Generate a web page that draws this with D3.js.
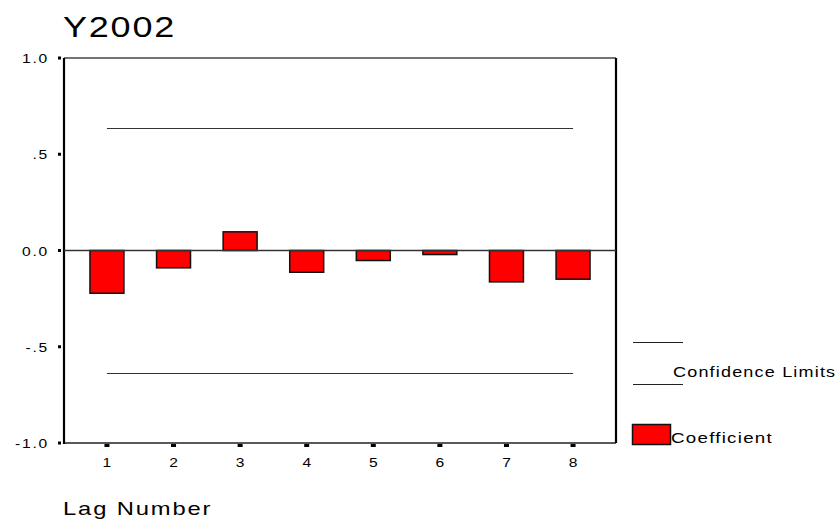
<!DOCTYPE html>
<html><head><meta charset="utf-8">
<script src="https://cdn.jsdelivr.net/npm/d3@7"></script>
<style>body{margin:0;background:#fff}svg{display:block}text{font-family:"Liberation Sans",Arial,sans-serif}</style>
</head><body><svg id="c" width="839" height="520"></svg>
<script>
const lags = [1,2,3,4,5,6,7,8];
const coefficients = [-0.222,-0.090,0.097,-0.113,-0.052,-0.021,-0.163,-0.149];
const upperLimit = 0.634;
const lowerLimit = -0.634;
const yTickValues = [1.0,0.5,0.0,-0.5,-1.0];
const yTickLabels = ["1.0",".5","0.0","-.5","-1.0"];
const title = "Y2002";
const xTitle = "Lag Number";
const legendLabels = ["Confidence Limits","Coefficient"];

const svg = d3.select("#c");
const L=64, R=616, T=58, B=443;
const x = d3.scalePoint().domain(lags).range([L,R]).padding(0.645);
const y = d3.scaleLinear().domain([-1,1]).range([B,T]);
const bw = x.step()*0.51;

function stxt(px,py,size,sx,ls,anchor,str){
  return svg.append("text").attr("transform",`translate(${px},${py}) scale(${sx},1)`)
    .attr("font-size",size).attr("letter-spacing",ls).attr("text-anchor",anchor||"start")
    .attr("fill","#000").text(str);
}

// frame
svg.append("line").attr("x1",L).attr("x2",R).attr("y1",T).attr("y2",T).attr("stroke","#444").attr("stroke-width",1.4);
svg.append("line").attr("x1",L).attr("x2",R).attr("y1",B).attr("y2",B).attr("stroke","#222").attr("stroke-width",1.4);
svg.append("line").attr("x1",L).attr("x2",L).attr("y1",T).attr("y2",B+1).attr("stroke","#000").attr("stroke-width",2.2);
svg.append("line").attr("x1",R).attr("x2",R).attr("y1",T).attr("y2",B).attr("stroke","#000").attr("stroke-width",2.2);

// confidence limits
[upperLimit,lowerLimit].forEach(v=>{
  svg.append("line").attr("x1",x(lags[0])).attr("x2",x(lags[lags.length-1]))
    .attr("y1",Math.round(y(v))+0.5).attr("y2",Math.round(y(v))+0.5).attr("stroke","#333").attr("stroke-width",1.2);
});

// bars
svg.selectAll("rect.bar").data(lags).enter().append("rect").attr("class","bar")
  .attr("x",d=>x(d)-bw/2).attr("width",bw)
  .attr("y",(d,i)=>y(Math.max(0,coefficients[i])))
  .attr("height",(d,i)=>Math.abs(y(coefficients[i])-y(0)))
  .attr("fill","#ff0000").attr("stroke","#111").attr("stroke-width",1.5);

// zero line
svg.append("line").attr("x1",L).attr("x2",R).attr("y1",y(0)).attr("y2",y(0)).attr("stroke","#333").attr("stroke-width",1.3);

// y axis ticks
yTickValues.forEach((v,i)=>{
  svg.append("rect").attr("x",L-6).attr("y",y(v)-1.5).attr("width",3).attr("height",3).attr("fill","#000");
  stxt(L-15,y(v)+5,13,1.2,1.5,"end",yTickLabels[i]);
});
// x axis ticks
lags.forEach(d=>{
  svg.append("rect").attr("x",x(d)-2.5).attr("y",B+1).attr("width",5).attr("height",3).attr("fill","#000");
  stxt(x(d),B+24,13,1.2,0,"middle",d);
});

stxt(63,37,30,1.2,1.5,"start",title);
stxt(63,515,19,1.25,1.5,"start",xTitle);

// legend
svg.append("line").attr("x1",633).attr("x2",683).attr("y1",342.5).attr("y2",342.5).attr("stroke","#222").attr("stroke-width",1.2);
svg.append("line").attr("x1",633).attr("x2",683).attr("y1",384.5).attr("y2",384.5).attr("stroke","#222").attr("stroke-width",1.2);
stxt(673,377,15,1.2,1,"start",legendLabels[0]);
svg.append("rect").attr("x",632.5).attr("y",424.5).attr("width",38).attr("height",20).attr("fill","#ff0000").attr("stroke","#111").attr("stroke-width",1.5);
stxt(671,443,15,1.25,1,"start",legendLabels[1]);
</script></body></html>
